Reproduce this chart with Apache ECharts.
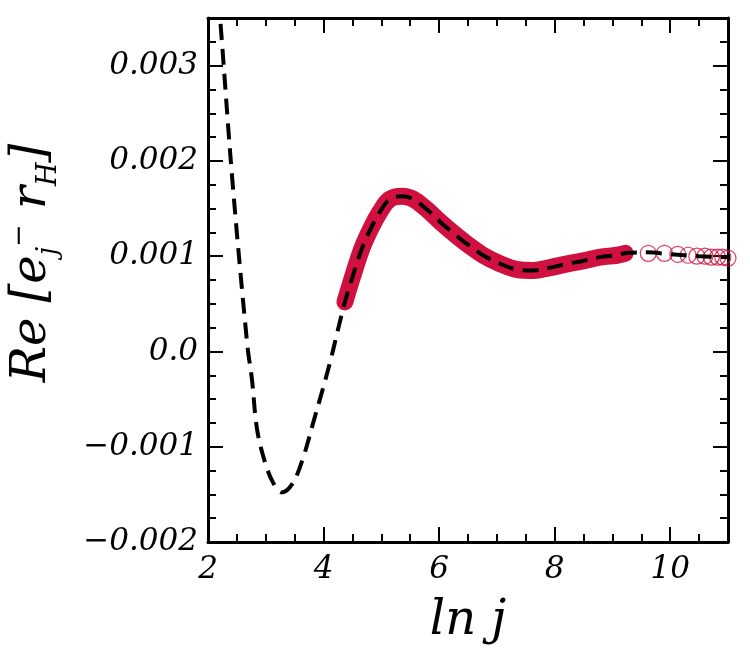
<!DOCTYPE html>
<html>
<head>
<meta charset="utf-8">
<script src="https://cdn.jsdelivr.net/npm/echarts@6/dist/echarts.min.js"></script>
<style>
  html, body { margin: 0; padding: 0; background: #fff; }
  #chart { width: 750px; height: 667px; }
</style>
</head>
<body>
<div id="chart"></div>
<script>
// dense band of simulated points (ln j, Re value)
var bandX = [4.37, 4.51, 4.67, 4.81, 4.98, 5.15, 5.36, 5.55, 5.79, 6.02, 6.31, 6.48, 6.76, 7.06, 7.35, 7.63, 7.92, 8.22, 8.49, 8.79, 9.08, 9.22];
var bandY = [0.00052, 0.00080, 0.00109, 0.00128, 0.00147, 0.00160, 0.00163, 0.00160, 0.00149, 0.00136, 0.00121, 0.00113, 0.00101, 0.00092, 0.00086, 0.00085, 0.00088, 0.00092, 0.00095, 0.00099, 0.00101, 0.00103];

// sparse points at large j
var sparseX = [9.62, 9.90, 10.13, 10.31, 10.46, 10.60, 10.71, 10.82, 10.91, 11.0];
var sparseY = [0.00103, 0.00103, 0.00102, 0.00101, 0.00100, 0.00100, 0.00099, 0.00099, 0.00099, 0.00098];

// fitted curve (dashed)
var curveX = [2.17, 2.21, 2.42, 2.68, 2.76, 2.85, 2.99, 3.13, 3.28, 3.47, 3.65, 3.82, 3.97, 4.11, 4.25, 4.37, 4.51, 4.67, 4.81, 4.98, 5.15, 5.36, 5.55, 5.79, 6.02, 6.31, 6.48, 6.76, 7.06, 7.35, 7.63, 7.92, 8.22, 8.49, 8.79, 9.08, 9.22, 9.6, 10.0, 10.5, 11.0];
var curveY = [0.0037, 0.00349, 0.00181, 0.00007, -0.00029, -0.00082, -0.00117, -0.00138, -0.00148, -0.00138, -0.00111, -0.00075, -0.00043, -0.00012, 0.00023, 0.00052, 0.00080, 0.00109, 0.00128, 0.00147, 0.00160, 0.00163, 0.00160, 0.00149, 0.00136, 0.00121, 0.00113, 0.00101, 0.00092, 0.00086, 0.00085, 0.00088, 0.00092, 0.00095, 0.00099, 0.00101, 0.00103, 0.00104, 0.00102, 0.00100, 0.00099];

var xTicks = ['2', '4', '6', '8', '10'];
var yTicks = ['\u22120.002', '\u22120.001', '0.0', '0.001', '0.002', '0.003'];

function zip(xs, ys) {
  return xs.map(function (x, i) { return [x, ys[i]]; });
}

var FONT = 'DejaVu Serif';
var RED = '#d0103f';

function xAxisOf(pos, major, labels) {
  return {
    type: 'value', position: pos, min: 2, max: 11,
    interval: major ? 2 : 0.5,
    axisLine: { show: major, onZero: false, lineStyle: { color: '#000', width: 3 } },
    axisTick: { show: true, inside: true, length: major ? 15 : 8, lineStyle: { color: '#000', width: 2 } },
    axisLabel: {
      show: labels, showMaxLabel: false, margin: 12,
      fontFamily: FONT, fontStyle: 'italic', fontSize: 31, color: '#000',
      formatter: function (v) { return xTicks[Math.round((v - 2) / 2)]; }
    },
    splitLine: { show: false }
  };
}

function yAxisOf(pos, major, labels) {
  return {
    type: 'value', position: pos, min: -0.002, max: 0.0035,
    interval: major ? 0.001 : 0.00025,
    axisLine: { show: major, onZero: false, lineStyle: { color: '#000', width: 3 } },
    axisTick: { show: true, inside: true, length: major ? 15 : 8, lineStyle: { color: '#000', width: 2 } },
    axisLabel: {
      show: labels, showMaxLabel: false, margin: 10,
      fontFamily: FONT, fontStyle: 'italic', fontSize: 31, color: '#000',
      formatter: function (v) { return yTicks[Math.round((v + 0.002) / 0.001)]; }
    },
    splitLine: { show: false }
  };
}

var chart = echarts.init(document.getElementById('chart'));

var xMain = xAxisOf('bottom', true, true);
xMain.name = 'ln j';
xMain.nameLocation = 'middle';
xMain.nameGap = 56;
xMain.nameTextStyle = { fontFamily: FONT, fontStyle: 'italic', fontSize: 48, color: '#000' };

var yMain = yAxisOf('left', true, true);
yMain.name = '{a|Re [e}{b|j}{c|\u2212}{a| r}{b|H}{a|]}';
yMain.nameLocation = 'middle';
yMain.nameGap = 144;
yMain.nameTextStyle = {
  padding: [0, 0, 0, 34],
  rich: {
    a: { fontFamily: FONT, fontStyle: 'italic', fontSize: 48, color: '#000', lineHeight: 62, verticalAlign: 'middle' },
    b: { fontFamily: FONT, fontStyle: 'italic', fontSize: 27, color: '#000', lineHeight: 62, verticalAlign: 'bottom', padding: [0, 0, 2, 0] },
    c: { fontFamily: FONT, fontSize: 27, color: '#000', lineHeight: 62, verticalAlign: 'top', padding: [4, 0, 0, 0] }
  }
};

chart.setOption({
  animation: false,
  backgroundColor: '#fff',
  grid: { left: 208, right: 22, top: 18, bottom: 125, outerBoundsMode: 'none', containLabel: false },
  xAxis: [xMain, xAxisOf('bottom', false, false), xAxisOf('top', true, false), xAxisOf('top', false, false)],
  yAxis: [yMain, yAxisOf('left', false, false), yAxisOf('right', true, false), yAxisOf('right', false, false)],
  series: [
    {
      name: 'band', type: 'line', xAxisIndex: 0, yAxisIndex: 0,
      data: zip(bandX, bandY), smooth: 0.4, showSymbol: false, symbol: 'none',
      lineStyle: { color: RED, width: 17, cap: 'round', join: 'round' }, z: 2
    },
    {
      name: 'sparse', type: 'scatter', xAxisIndex: 0, yAxisIndex: 0,
      data: zip(sparseX, sparseY), symbol: 'circle', symbolSize: 16,
      itemStyle: { color: 'rgba(255,255,255,0)', borderColor: RED, borderWidth: 1.2 }, z: 3
    },
    {
      name: 'curve', type: 'line', xAxisIndex: 0, yAxisIndex: 0,
      data: zip(curveX, curveY), smooth: 0.35, showSymbol: false, symbol: 'none', clip: true,
      lineStyle: { color: '#000', width: 4, type: [16, 9] }, z: 4
    }
  ]
});
</script>
</body>
</html>
